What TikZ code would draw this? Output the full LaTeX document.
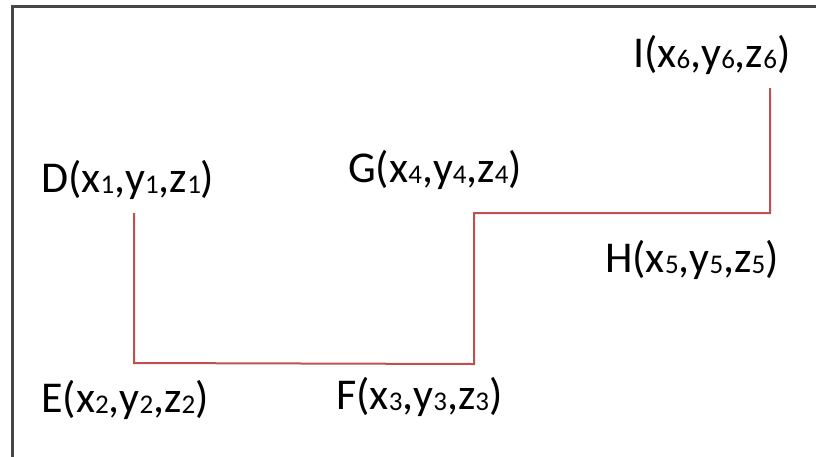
\documentclass[tikz,border=0pt]{standalone}
\usepackage{fontspec}
\setmainfont{Carlito}
\definecolor{linered}{RGB}{192,80,77}
\definecolor{framegray}{RGB}{70,70,70}
\newcommand{\ix}[1]{\raisebox{-1pt}{\fontsize{27}{28}\selectfont #1}}
\begin{document}
\begin{tikzpicture}[x=1pt,y=-1pt]
    \tikzstyle{lbl}=[anchor=base west, inner sep=0pt, font=\fontsize{44}{48}\selectfont]
    \tikzstyle{wire}=[draw=linered, line width=2pt]
    \useasboundingbox (0,0) rectangle (816,456);
    % frame
    \draw[framegray, line width=3pt] (12,480) |- (840,6);
    % corner points
    \coordinate (d) at (134,213);
    \coordinate (e) at (134,363);
    \coordinate (f) at (474,364);
    \coordinate (g) at (474,213);
    \coordinate (h) at (770,213);
    \coordinate (i) at (770,88);
    \draw[wire] (d)--(e)--(f)--(g)--(h)--(i);
    % labels
    \node[lbl] (dl) at (41,192) {D(x\ix{1},y\ix{1},z\ix{1})};
    \node[lbl] (el) at (41,412) {E(x\ix{2},y\ix{2},z\ix{2})};
    \node[lbl] (fl) at (336,409) {F(x\ix{3},y\ix{3},z\ix{3})};
    \node[lbl] (gl) at (348,182) {G(x\ix{4},y\ix{4},z\ix{4})};
    \node[lbl] (hl) at (605,272) {H(x\ix{5},y\ix{5},z\ix{5})};
    \node[lbl] (il) at (633,67) {I(x\ix{6},y\ix{6},z\ix{6})};
\end{tikzpicture}
\end{document}
